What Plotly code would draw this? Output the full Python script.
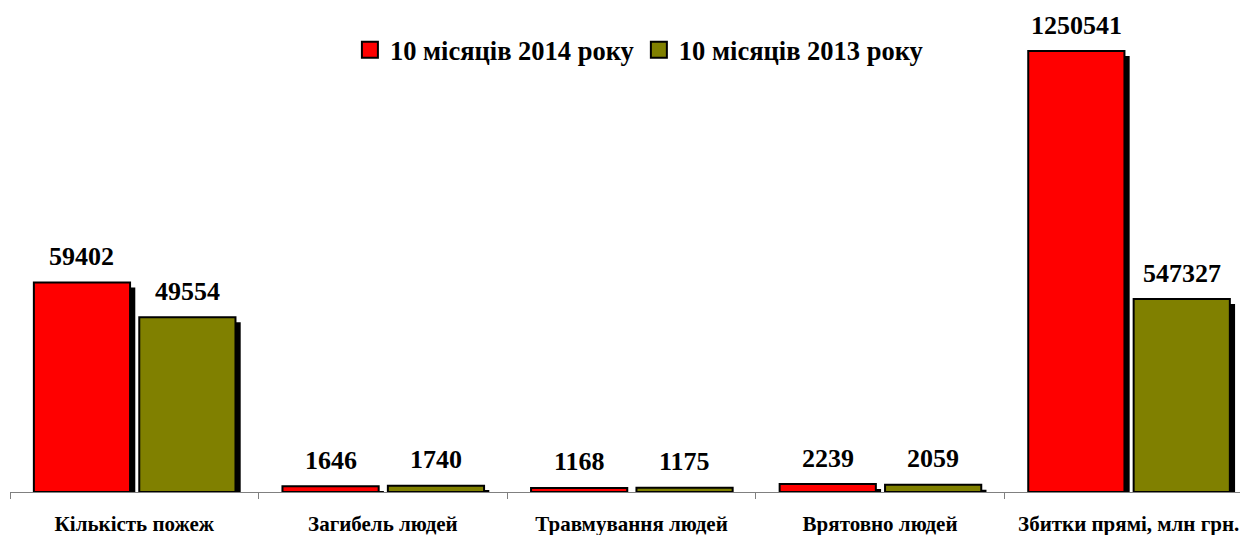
import plotly.graph_objects as go

categories = ["Кількість пожеж", "Загибель людей", "Травмування людей",
              "Врятовно людей", "Збитки прямі, млн грн."]
values_2014 = [59402, 1646, 1168, 2239, 1250541]
values_2013 = [49554, 1740, 1175, 2059, 547327]
# the damage column is drawn at one tenth of its value in the original chart
display_divisor = [1, 1, 1, 1, 10]

series = [
    ("10 місяців 2014 року", values_2014, "#ff0000", -0.404),
    ("10 місяців 2013 року", values_2013, "#808000", 0.02),
]

BAR_W = 0.387
SHADOW_DX = 0.021
Y_MAX = 136700
SHADOW_DY = 5 * 283.6  # shadow top sits ~5 px lower

FONT = "Liberation Serif, Times New Roman, serif"

fig = go.Figure()

# shadows first so the coloured bars sit on top
for name, vals, color, off in series:
    plot_vals = [v / d for v, d in zip(vals, display_divisor)]
    fig.add_trace(go.Bar(
        x=categories, y=[max(p - SHADOW_DY, 0) for p in plot_vals],
        offset=off + SHADOW_DX, width=BAR_W,
        marker=dict(color="black", line=dict(width=0)),
        showlegend=False, hoverinfo="skip",
    ))

for name, vals, color, off in series:
    plot_vals = [v / d for v, d in zip(vals, display_divisor)]
    fig.add_trace(go.Bar(
        x=categories, y=plot_vals, name=name, legendgroup=name,
        offset=off, width=BAR_W, showlegend=False,
        marker=dict(color=color, line=dict(color="black", width=2)),
        customdata=vals,
        hovertemplate="%{x}<br>" + name + ": %{customdata}<extra></extra>",
    ))
    # bigger square legend key than the bar default
    fig.add_trace(go.Scatter(
        x=[None], y=[None], mode="markers", name=name, legendgroup=name,
        marker=dict(symbol="square", size=16, color=color,
                    line=dict(color="black", width=2)),
    ))
    for i, (v, p) in enumerate(zip(vals, plot_vals)):
        fig.add_annotation(
            x=i + off + BAR_W / 2, y=p, text=str(v), showarrow=False,
            yshift=26, font=dict(family=FONT, size=26, color="black", weight="bold"),
        )

# page body adds an 8px margin, so the figure is a little smaller than the window
fig.update_layout(
    width=1240, height=527,
    barmode="overlay",
    margin=dict(l=2, r=0, t=2, b=43),
    paper_bgcolor="white", plot_bgcolor="white",
    font=dict(family=FONT, color="black"),
    legend=dict(
        orientation="h", x=0.508, xanchor="center", y=0.917, yanchor="middle",
        font=dict(family=FONT, size=26.5, weight="bold"),
        itemwidth=30, traceorder="normal", itemsizing="trace",
    ),
    showlegend=True,
)

fig.update_xaxes(
    type="category", range=[-0.5, 4.48],
    showline=True, linecolor="#808080", linewidth=1,
    ticks="outside", tickson="boundaries", ticklen=6, tickcolor="#808080",
    tickfont=dict(family=FONT, size=21, weight="bold"),
    ticklabelstandoff=13,
    showgrid=False,
)
fig.update_yaxes(range=[0, Y_MAX], visible=False, showgrid=False)

fig.write_html("out.html")
